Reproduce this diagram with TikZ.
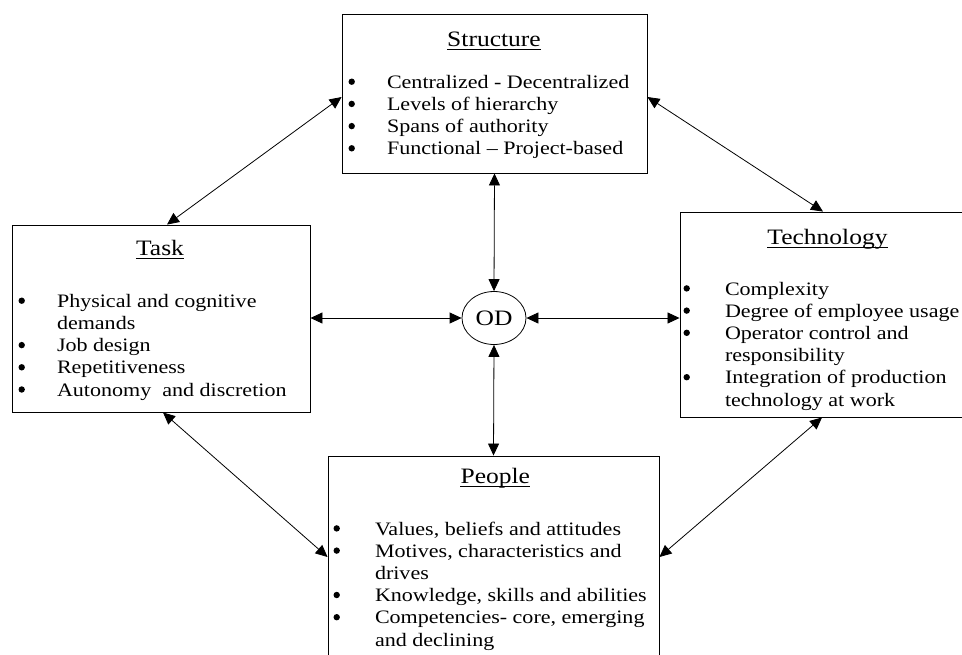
\documentclass[tikz,border=0pt]{standalone}
\usepackage{fontspec}
\setmainfont{Liberation Serif}[FakeStretch=1.16]
\usetikzlibrary{arrows.meta,shapes.geometric}
\begin{document}
\begin{tikzpicture}[x=1pt,y=-1pt,
  box/.style={draw=black,line width=0.9pt,rectangle,inner sep=0pt},
  ttl/.style={inner sep=0pt,anchor=base,font=\fontsize{22}{26}\selectfont},
  lst/.style={inner sep=0pt,anchor=base west,font=\fontsize{19}{22.2}\selectfont},
  uline/.style={line width=0.8pt},
  dot/.style={fill=black},
  link/.style={line width=0.8pt,{Triangle[length=12pt,width=11pt]}-{Triangle[length=12pt,width=11pt]}},
]
\useasboundingbox (0,0) rectangle (962,654);
\clip (0,0) rectangle (962,654);
% boxes
\node[box,minimum width=305pt,minimum height=159pt] (structure) at (494.5,93.5) {};
\node[box,minimum width=298pt,minimum height=187pt] (task) at (161,318.5) {};
\node[box,minimum width=310pt,minimum height=205pt] (tech) at (835,314.5) {};
\node[box,minimum width=331pt,minimum height=230pt] (people) at (493.5,571) {};
\node[draw=black,line width=0.8pt,ellipse,minimum width=64pt,minimum height=53pt,inner sep=0pt,font=\fontsize{22}{26}\selectfont] (od) at (494,318) {OD};
% titles
\node[ttl] (tS) at (494,46) {Structure};
\node[ttl] (tT) at (160,255) {Task};
\node[ttl] (tC) at (827.5,244) {Technology};
\node[ttl] (tP) at (495.3,483.3) {People};
\foreach \t in {tS,tT,tC,tP}{
  \draw[uline] ([yshift=-3.5pt]\t.base west) -- ([yshift=-3.5pt]\t.base east);
}
% lists
\node[lst] (lS) at (386.8,88.3) {\begin{tabular}[t]{@{}l@{}}
Centralized - Decentralized\\
Levels of hierarchy\\
Spans of authority\\
Functional -- Project-based
\end{tabular}};
\node[lst] (lT) at (56.8,307.3) {\begin{tabular}[t]{@{}l@{}}
Physical and cognitive\\
demands\\
Job design\\
Repetitiveness\\
Autonomy\ \ and discretion
\end{tabular}};
\node[lst] (lC) at (724.8,295) {\begin{tabular}[t]{@{}l@{}}
Complexity\\
Degree of employee usage\\
Operator control and\\
responsibility\\
Integration of production\\
technology at work
\end{tabular}};
\node[lst] (lP) at (374.8,535) {\begin{tabular}[t]{@{}l@{}}
Values, beliefs and attitudes\\
Motives, characteristics and\\
drives\\
Knowledge, skills and abilities\\
Competencies- core, emerging\\
and declining
\end{tabular}};
% bullets
\foreach \k in {0,1,2,3} \fill[dot] (351.7,{88.3+22.2*\k-6.6}) circle (3.2);
\foreach \k in {0,2,3,4} \fill[dot] (21.7,{307.3+22.2*\k-6.6}) circle (3.2);
\foreach \k in {0,1,2,4} \fill[dot] (686.7,{295+22.2*\k-6.6}) circle (3.2);
\foreach \k in {0,1,3,4} \fill[dot] (336.7,{535+22.2*\k-6.6}) circle (3.2);
% connectors
\draw[link] (structure.south) -- (od.north);
\draw[link] (od.south) -- (people.north);
\draw[link] (od.west -| task.east) -- (od.west);
\draw[link] (od.east) -- (od.east -| tech.west);
\draw[link] ([xshift=6pt]task.north) -- ([yshift=-3.5pt]structure.west);
\draw[link] ([yshift=-3.5pt]structure.east) -- ([xshift=-12pt]tech.north);
\draw[link] ([xshift=2pt]task.south) -- ([yshift=14pt]people.west);
\draw[link] ([xshift=-13pt]tech.south) -- ([yshift=14pt]people.east);
\end{tikzpicture}
\end{document}
